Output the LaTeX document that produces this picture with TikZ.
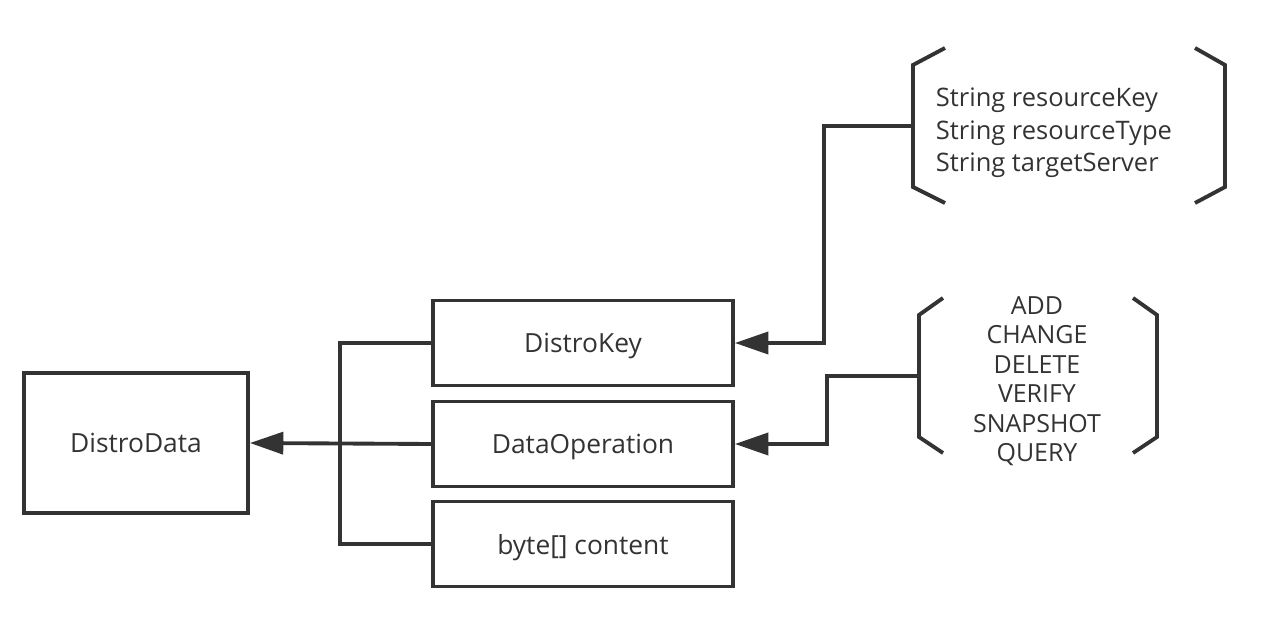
\documentclass[tikz,border=0pt]{standalone}
\usepackage{fontspec}
\setmainfont{Open Sans}
\usetikzlibrary{arrows.meta}
\definecolor{ink}{HTML}{333333}
\begin{document}
\begin{tikzpicture}[x = 0.02cm, y = -0.02cm,
        line width = 2.2pt, draw = ink, text = ink,
        box/.style = {draw, rectangle, inner sep = 0pt, text depth = 0pt,
                minimum width = 6cm, minimum height = 1.7cm,
                font = \fontsize{15}{18}\selectfont},
        arr/.style = {-{Triangle[length = 19pt, width = 12.5pt]}}]
        \useasboundingbox (0,0) rectangle (1276,638);

        \node[box, minimum width = 4.48cm, minimum height = 2.8cm] (data) at (136,443) {DistroData};
        \node[box] (key) at (583,343) {DistroKey};
        \node[box] (op) at (583,444) {DataOperation};
        \node[box] (bytes) at (583,544) {byte[] content};

        % fields of the key
        \node[anchor = west, align = left, inner sep = 0pt,
                font = \fontsize{14.5}{18.4}\selectfont] (fields) at (934,133)
                {String resourceKey\\String resourceType\\String targetServer};
        \draw (945,48) -- (913,65) -- (913,187) -- (945,203);
        \draw (1195,48) -- (1225,65) -- (1225,187) -- (1195,203);
        \coordinate (b1) at (913,126);

        % operation values
        \node[align = center, inner sep = 0pt,
                font = \fontsize{14.2}{16.8}\selectfont] (ops) at (1037,381)
                {ADD\\CHANGE\\DELETE\\VERIFY\\SNAPSHOT\\QUERY};
        \draw (943,298) -- (919,315) -- (919,437) -- (943,453);
        \draw (1133,298) -- (1157,315) -- (1157,437) -- (1133,453);
        \coordinate (b2) at (919,376);

        % bus on the left
        \coordinate (jtop) at (340,343);
        \coordinate (jbot) at (340,544);
        \draw (key.west) -- (jtop) -- (jbot) -- (bytes.west);
        \draw[arr] (op.west) -- (data.east);

        \draw[arr] (b1) -- ++(-89,0) |- (key.east);
        \draw[arr] (b2) -- ++(-92,0) |- (op.east);
\end{tikzpicture}
\end{document}
